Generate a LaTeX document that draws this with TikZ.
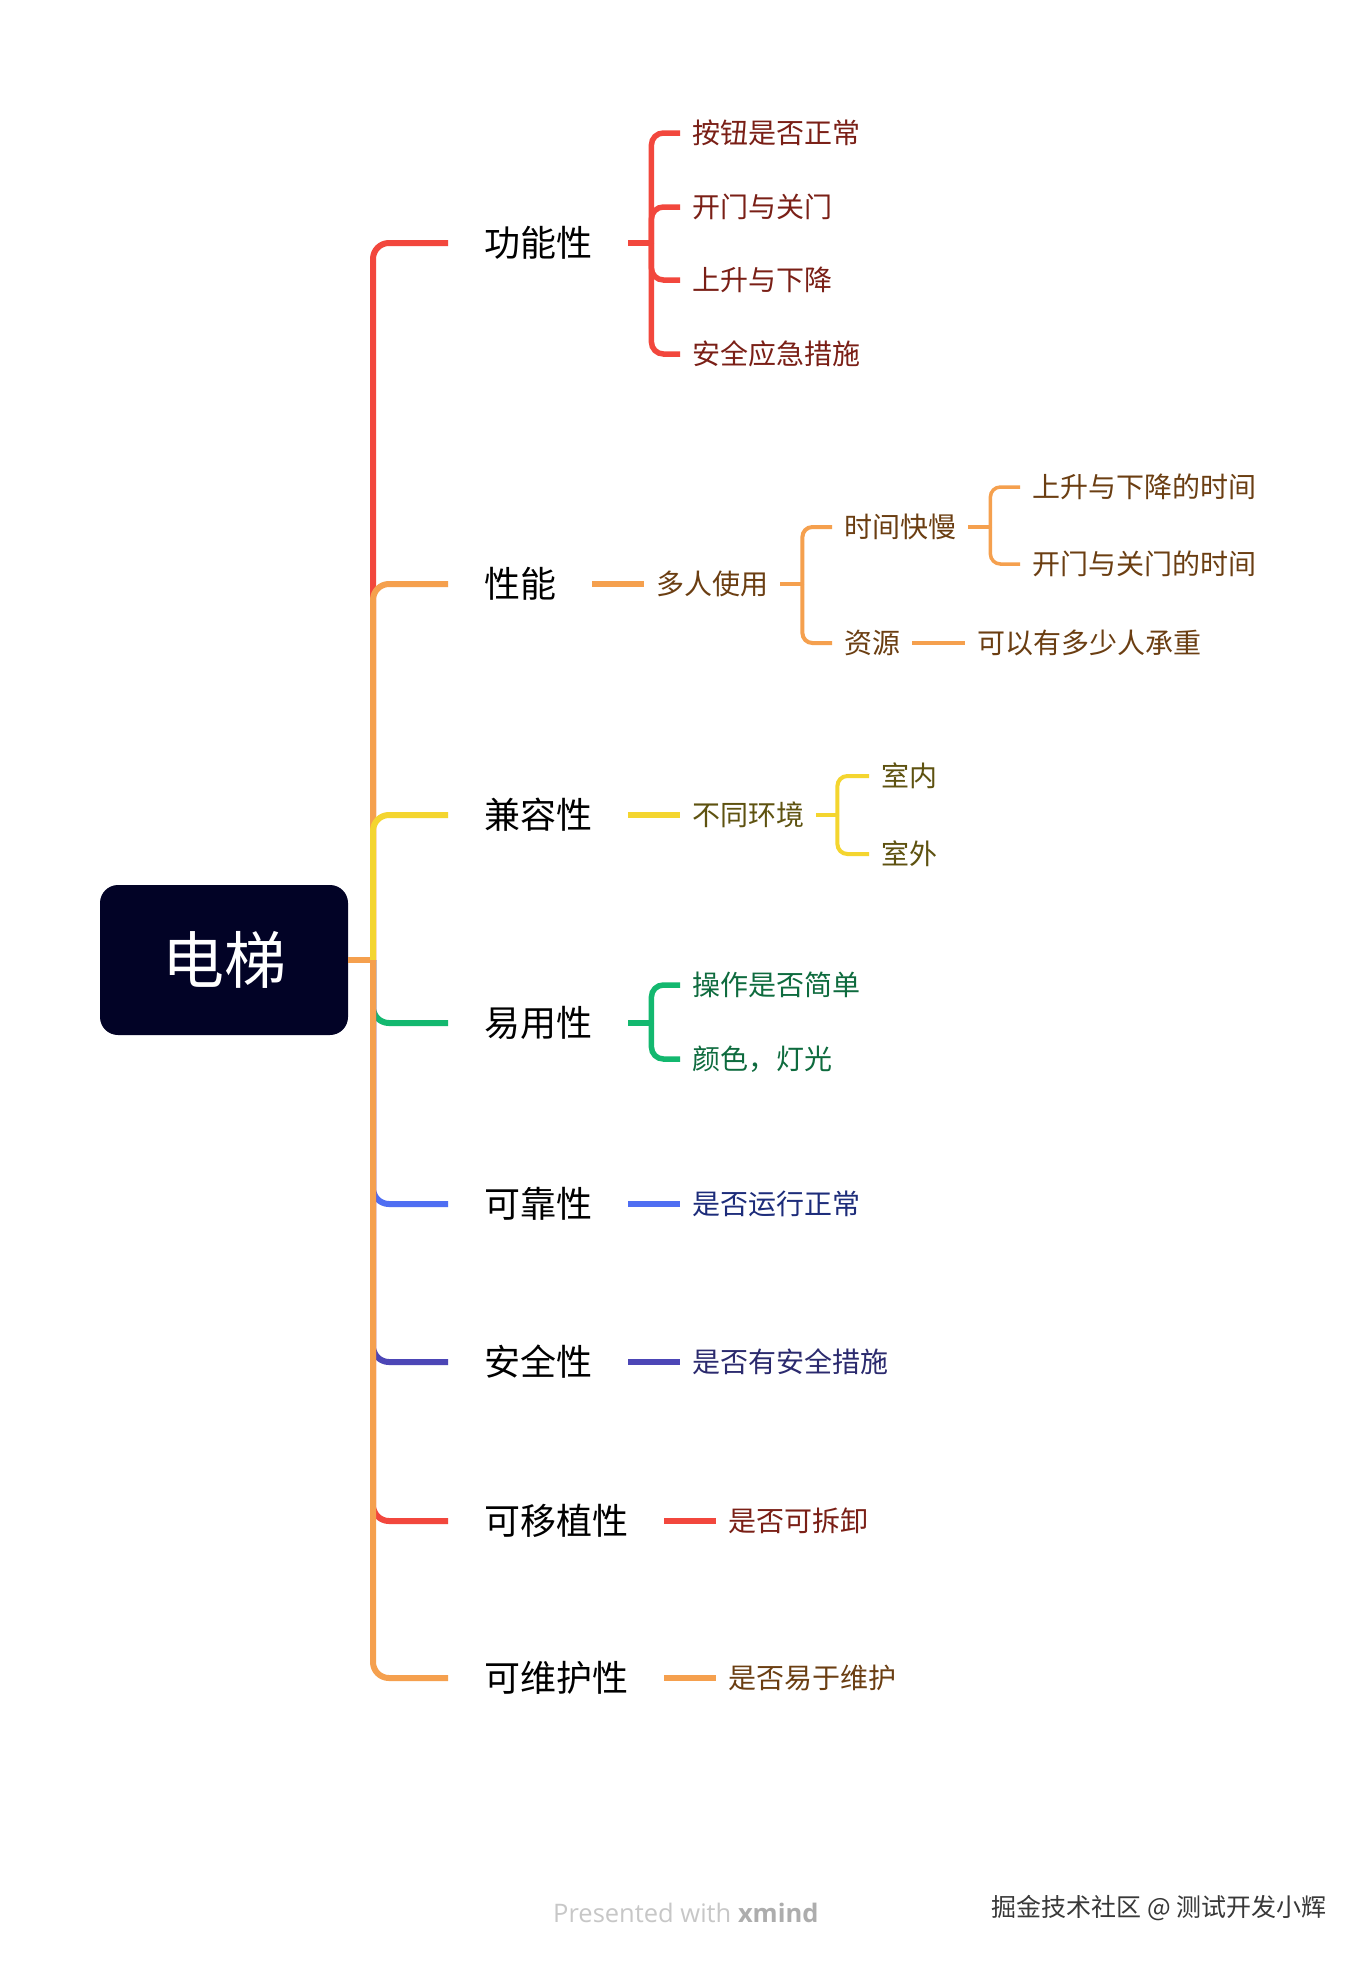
\documentclass[tikz,border=0pt]{standalone}
\usepackage{fontspec}
\setmainfont{Noto Sans CJK SC}
\newfontfamily\latinfont{Open Sans}
\definecolor{cRed}{HTML}{F2473D}
\definecolor{cOrange}{HTML}{F5A04E}
\definecolor{cYellow}{HTML}{F4D52F}
\definecolor{cGreen}{HTML}{13B86F}
\definecolor{cBlue}{HTML}{4F6EF2}
\definecolor{cIndigo}{HTML}{4C46B6}
\definecolor{tRed}{HTML}{7A1F16}
\definecolor{tOrange}{HTML}{6B3E12}
\definecolor{tYellow}{HTML}{5E5210}
\definecolor{tGreen}{HTML}{0E6B3E}
\definecolor{tBlue}{HTML}{1D2C7A}
\definecolor{tIndigo}{HTML}{2B2A6E}
\definecolor{rootc}{HTML}{020326}
\begin{document}
\begin{tikzpicture}[x=1pt,y=-1pt,
  mainnode/.style={anchor=west, inner xsep=36pt, inner ysep=0pt, text height=31.7pt, text depth=4.3pt, font=\fontsize{36}{40}\selectfont, text=black},
  subnode/.style={anchor=west, inner xsep=12pt, inner ysep=0pt, text height=24.6pt, text depth=3.4pt, font=\fontsize{28}{32}\selectfont},
  brmain/.style={line width=6pt, rounded corners=16pt},
  brsub/.style={line width=5.5pt, rounded corners=12pt},
  brdeep/.style={line width=4pt, rounded corners=10pt},
  brdeeper/.style={line width=3.5pt, rounded corners=10pt},
]
\fill[white] (0,0) rectangle (1368,1962);
\useasboundingbox (0,0) rectangle (1368,1962);

% root
\node[fill=rootc, rounded corners=18pt, minimum width=248pt, minimum height=150pt, inner sep=0pt, text=white, font=\fontsize{62}{68}\selectfont] (root) at (224,960) {电梯};
\coordinate (J) at (373,960);

% main topics
\node[mainnode] (m1) at (448,243) {功能性};
\node[mainnode] (m2) at (448,584) {性能};
\node[mainnode] (m3) at (448,815) {兼容性};
\node[mainnode] (m4) at (448,1023) {易用性};
\node[mainnode] (m5) at (448,1204) {可靠性};
\node[mainnode] (m6) at (448,1362) {安全性};
\node[mainnode] (m7) at (448,1521) {可移植性};
\node[mainnode] (m8) at (448,1678) {可维护性};

\draw[line width=6pt, cOrange] (root.east) -- (J);
\draw[brmain, cRed] (J) |- (m1.west);
\draw[brmain, cOrange] (J) |- (m2.west);
\draw[brmain, cYellow] (J) |- (m3.west);
\draw[brmain, cGreen] (J) |- (m4.west);
\draw[brmain, cBlue] (J) |- (m5.west);
\draw[brmain, cIndigo] (J) |- (m6.west);
\draw[brmain, cRed] (J) |- (m7.west);
\draw[brmain, cOrange] (J) |- (m8.west);

% 功能性
\node[subnode, text=tRed] (f1) at (680,133) {按钮是否正常};
\node[subnode, text=tRed] (f2) at (680,207) {开门与关门};
\node[subnode, text=tRed] (f3) at (680,280) {上升与下降};
\node[subnode, text=tRed] (f4) at (680,354) {安全应急措施};
\coordinate (B1) at ([xshift=23pt]m1.east);
\draw[brsub, cRed] (m1.east) -- (B1);
\foreach \n in {f1,f2,f3,f4} \draw[brsub, cRed] (B1) |- (\n.west);

% 性能
\node[subnode, text=tOrange] (p1) at (644,584) {多人使用};
\draw[brsub, cOrange] (m2.east) -- (p1.west);
\node[subnode, text=tOrange] (p11) at (832,527) {时间快慢};
\node[subnode, text=tOrange] (p12) at (832,643) {资源};
\coordinate (B2) at ([xshift=22pt]p1.east);
\draw[brdeep, cOrange] (p1.east) -- (B2);
\draw[brdeep, cOrange] (B2) |- (p11.west);
\draw[brdeep, cOrange] (B2) |- (p12.west);
\node[subnode, text=tOrange] (p111) at (1020,487) {上升与下降的时间};
\node[subnode, text=tOrange] (p112) at (1020,564) {开门与关门的时间};
\coordinate (B3) at ([xshift=22pt]p11.east);
\draw[brdeeper, cOrange] (p11.east) -- (B3);
\draw[brdeeper, cOrange] (B3) |- (p111.west);
\draw[brdeeper, cOrange] (B3) |- (p112.west);
\node[subnode, text=tOrange] (p121) at (965,643) {可以有多少人承重};
\draw[brdeeper, cOrange] (p12.east) -- (p121.west);

% 兼容性
\node[subnode, text=tYellow] (c1) at (680,815) {不同环境};
\draw[brsub, cYellow] (m3.east) -- (c1.west);
\node[subnode, text=tYellow] (c11) at (869,776) {室内};
\node[subnode, text=tYellow] (c12) at (869,854) {室外};
\coordinate (B4) at ([xshift=21pt]c1.east);
\draw[brdeep, cYellow] (c1.east) -- (B4);
\draw[brdeep, cYellow] (B4) |- (c11.west);
\draw[brdeep, cYellow] (B4) |- (c12.west);

% 易用性
\node[subnode, text=tGreen] (e1) at (680,985) {操作是否简单};
\node[subnode, text=tGreen] (e2) at (680,1059) {颜色，灯光};
\coordinate (B5) at ([xshift=23pt]m4.east);
\draw[brsub, cGreen] (m4.east) -- (B5);
\draw[brsub, cGreen] (B5) |- (e1.west);
\draw[brsub, cGreen] (B5) |- (e2.west);

% 可靠性, 安全性
\node[subnode, text=tBlue] (r1) at (680,1204) {是否运行正常};
\draw[brsub, cBlue] (m5.east) -- (r1.west);
\node[subnode, text=tIndigo] (s1) at (680,1362) {是否有安全措施};
\draw[brsub, cIndigo] (m6.east) -- (s1.west);

% 可移植性, 可维护性
\node[subnode, text=tRed] (t1) at (716,1521) {是否可拆卸};
\draw[brsub, cRed] (m7.east) -- (t1.west);
\node[subnode, text=tOrange] (w1) at (716,1678) {是否易于维护};
\draw[brsub, cOrange] (m8.east) -- (w1.west);

% footer
\node[anchor=west, inner sep=0pt, font=\latinfont\fontsize{25.5}{28}\selectfont, text=black!22] (pw) at (553,1913) {Presented with \textcolor{black!32}{\textbf{xmind}}};
\node[anchor=east, inner sep=0pt, font=\fontsize{25}{28}\selectfont, text=black!78] (jj) at (1327,1908) {掘金技术社区 @ 测试开发小辉};
\end{tikzpicture}
\end{document}
